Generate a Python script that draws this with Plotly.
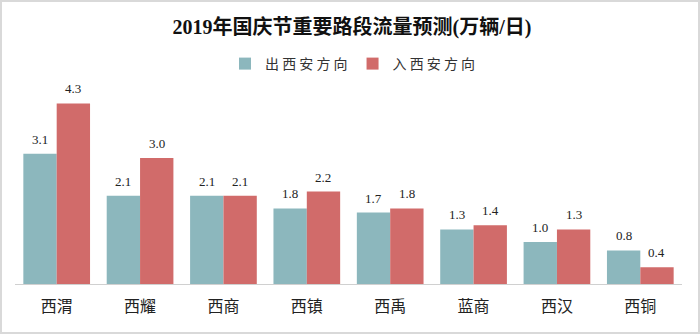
import plotly.graph_objects as go

categories = ["西渭", "西耀", "西商", "西镇", "西禹", "蓝商", "西汉", "西铜"]
out_xian = [3.1, 2.1, 2.1, 1.8, 1.7, 1.3, 1.0, 0.8]
in_xian = [4.3, 3.0, 2.1, 2.2, 1.8, 1.4, 1.3, 0.4]
series_names = ["出西安方向", "入西安方向"]
title_text = "2019年国庆节重要路段流量预测(万辆/日)"

L, R, T, B = 15, 18, 95, 51
W, H = 700, 335
pw = W - L - R
ph = H - T - B
bargap = 0.2
bar_px = pw / len(categories) * (1 - bargap) / 2

def px_x(p):
    return (p - L) / pw

def px_y(p):
    return (H - B - p) / ph

def spaced(s):
    return " ".join(s)

colors = ["#8CB7BD", "#D16B6A"]
fig = go.Figure()
for name, vals, col in zip(series_names, [out_xian, in_xian], colors):
    fig.add_trace(go.Bar(
        x=categories, y=vals, name=spaced(name),
        marker=dict(color=col, line=dict(width=0)),
    ))

annotations = []
for vals, shift in [(out_xian, -bar_px / 2), (in_xian, bar_px / 2)]:
    for c, v in zip(categories, vals):
        annotations.append(dict(
            x=c, y=v, xref="x", yref="y", text=f"{v:.1f}", showarrow=False,
            xshift=shift, yshift=14.5, yanchor="middle", xanchor="center",
            font=dict(family="Liberation Serif, Times New Roman", size=13, color="#222"),
        ))

fig.update_layout(
    width=W, height=H,
    margin=dict(l=L, r=R, t=T, b=B),
    paper_bgcolor="white", plot_bgcolor="white",
    barmode="group", bargap=bargap, bargroupgap=0,
    title=dict(text="<b>" + title_text + "</b>", x=352 / W, xref="container", xanchor="center",
               y=1 - 27 / H, yanchor="middle",
               font=dict(family="Liberation Serif, Noto Sans CJK SC", size=20, color="#111")),
    legend=dict(orientation="h", x=px_x(353), xanchor="center", y=px_y(64), yanchor="middle",
                font=dict(family="Noto Sans CJK SC", size=14, color="#333"),
                traceorder="normal", bgcolor="rgba(0,0,0,0)"),
    showlegend=True,
    xaxis=dict(showline=True, linecolor="#d0d0d0", linewidth=1, ticks="",
               ticklabelstandoff=8,
               tickfont=dict(family="Noto Sans CJK SC", size=16, color="#222"),
               showgrid=False),
    yaxis=dict(range=[0, 4.5], visible=False, showgrid=False, zeroline=False),
    annotations=annotations,
    shapes=[dict(type="rect", xref="paper", yref="paper",
                 x0=px_x(1), x1=px_x(699), y0=px_y(333), y1=px_y(1),
                 line=dict(color="#d9d9d9", width=2), fillcolor="rgba(0,0,0,0)", layer="below")],
)

fig.write_html("out.html")
